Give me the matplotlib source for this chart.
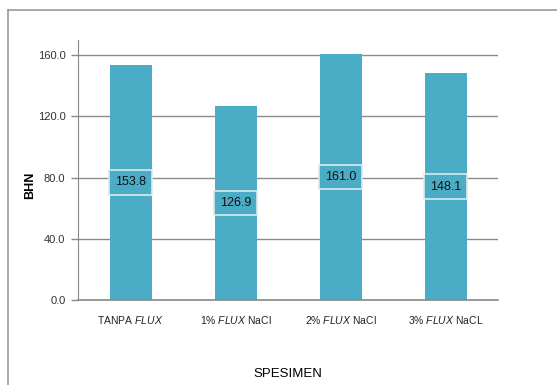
import matplotlib
matplotlib.use("Agg")
import matplotlib.pyplot as plt
from matplotlib.lines import Line2D

categories = [r"TANPA $\mathit{FLUX}$", r"1% $\mathit{FLUX}$ NaCl",
              r"2% $\mathit{FLUX}$ NaCl", r"3% $\mathit{FLUX}$ NaCL"]
bhn = [153.8, 126.9, 161.0, 148.1]
yticks = [0, 40, 80, 120, 160]

plt.rcParams["font.family"] = ["Liberation Sans", "DejaVu Sans"]
plt.rcParams["mathtext.fontset"] = "custom"
plt.rcParams["mathtext.rm"] = "Liberation Sans"
plt.rcParams["mathtext.it"] = "Liberation Sans:italic"

fig = plt.figure(figsize=(5.57, 3.85), dpi=100)
ax = fig.add_axes([78/557, 1 - 300/385, 420/557, 260/385])

bar_color = "#4BACC6"
x = range(len(categories))
ax.bar(x, bhn, width=0.4, color=bar_color, zorder=2)

for xi, v in zip(x, bhn):
    ax.text(xi, v / 2, f"{v:.1f}", ha="center", va="center", fontsize=9,
            color="#111111", zorder=3,
            bbox=dict(boxstyle="square,pad=0.5", facecolor=bar_color,
                      edgecolor="#dde9ec", linewidth=1.2))

ax.set_xlim(-0.5, 3.5)
ax.set_ylim(0, 170)
ax.set_yticks(yticks)
ax.set_yticklabels([f"{t:.1f}" for t in yticks], fontsize=8, color="#333333")
ax.set_xticks(list(x))
ax.set_xticklabels(categories, fontsize=7.5, color="#222222")
ax.tick_params(axis="x", length=0, pad=10)
ax.tick_params(axis="y", length=5, color="#888888", width=1, pad=4)
ax.yaxis.grid(True, color="#8a8a8a", linewidth=1.0, zorder=0)
ax.set_axisbelow(True)

for side in ["top", "right"]:
    ax.spines[side].set_visible(False)
ax.spines["left"].set_color("#888888")
ax.spines["bottom"].set_color("#888888")
ax.spines["bottom"].set_linewidth(1.2)

ax.set_ylabel("BHN", fontsize=9, fontweight="bold")
ax.yaxis.set_label_coords(-0.10, 0.44)
ax.set_xlabel("SPESIMEN", fontsize=9.5)
ax.xaxis.set_label_coords(0.5, -0.262)

# outer frame lines
fig.add_artist(Line2D([8/557, 1], [1 - 10/385, 1 - 10/385], color="#999999",
                      linewidth=1.2, transform=fig.transFigure))
fig.add_artist(Line2D([8/557, 8/557], [0, 1 - 10/385], color="#999999",
                      linewidth=1.2, transform=fig.transFigure))

fig.savefig("out.png", dpi=100)
